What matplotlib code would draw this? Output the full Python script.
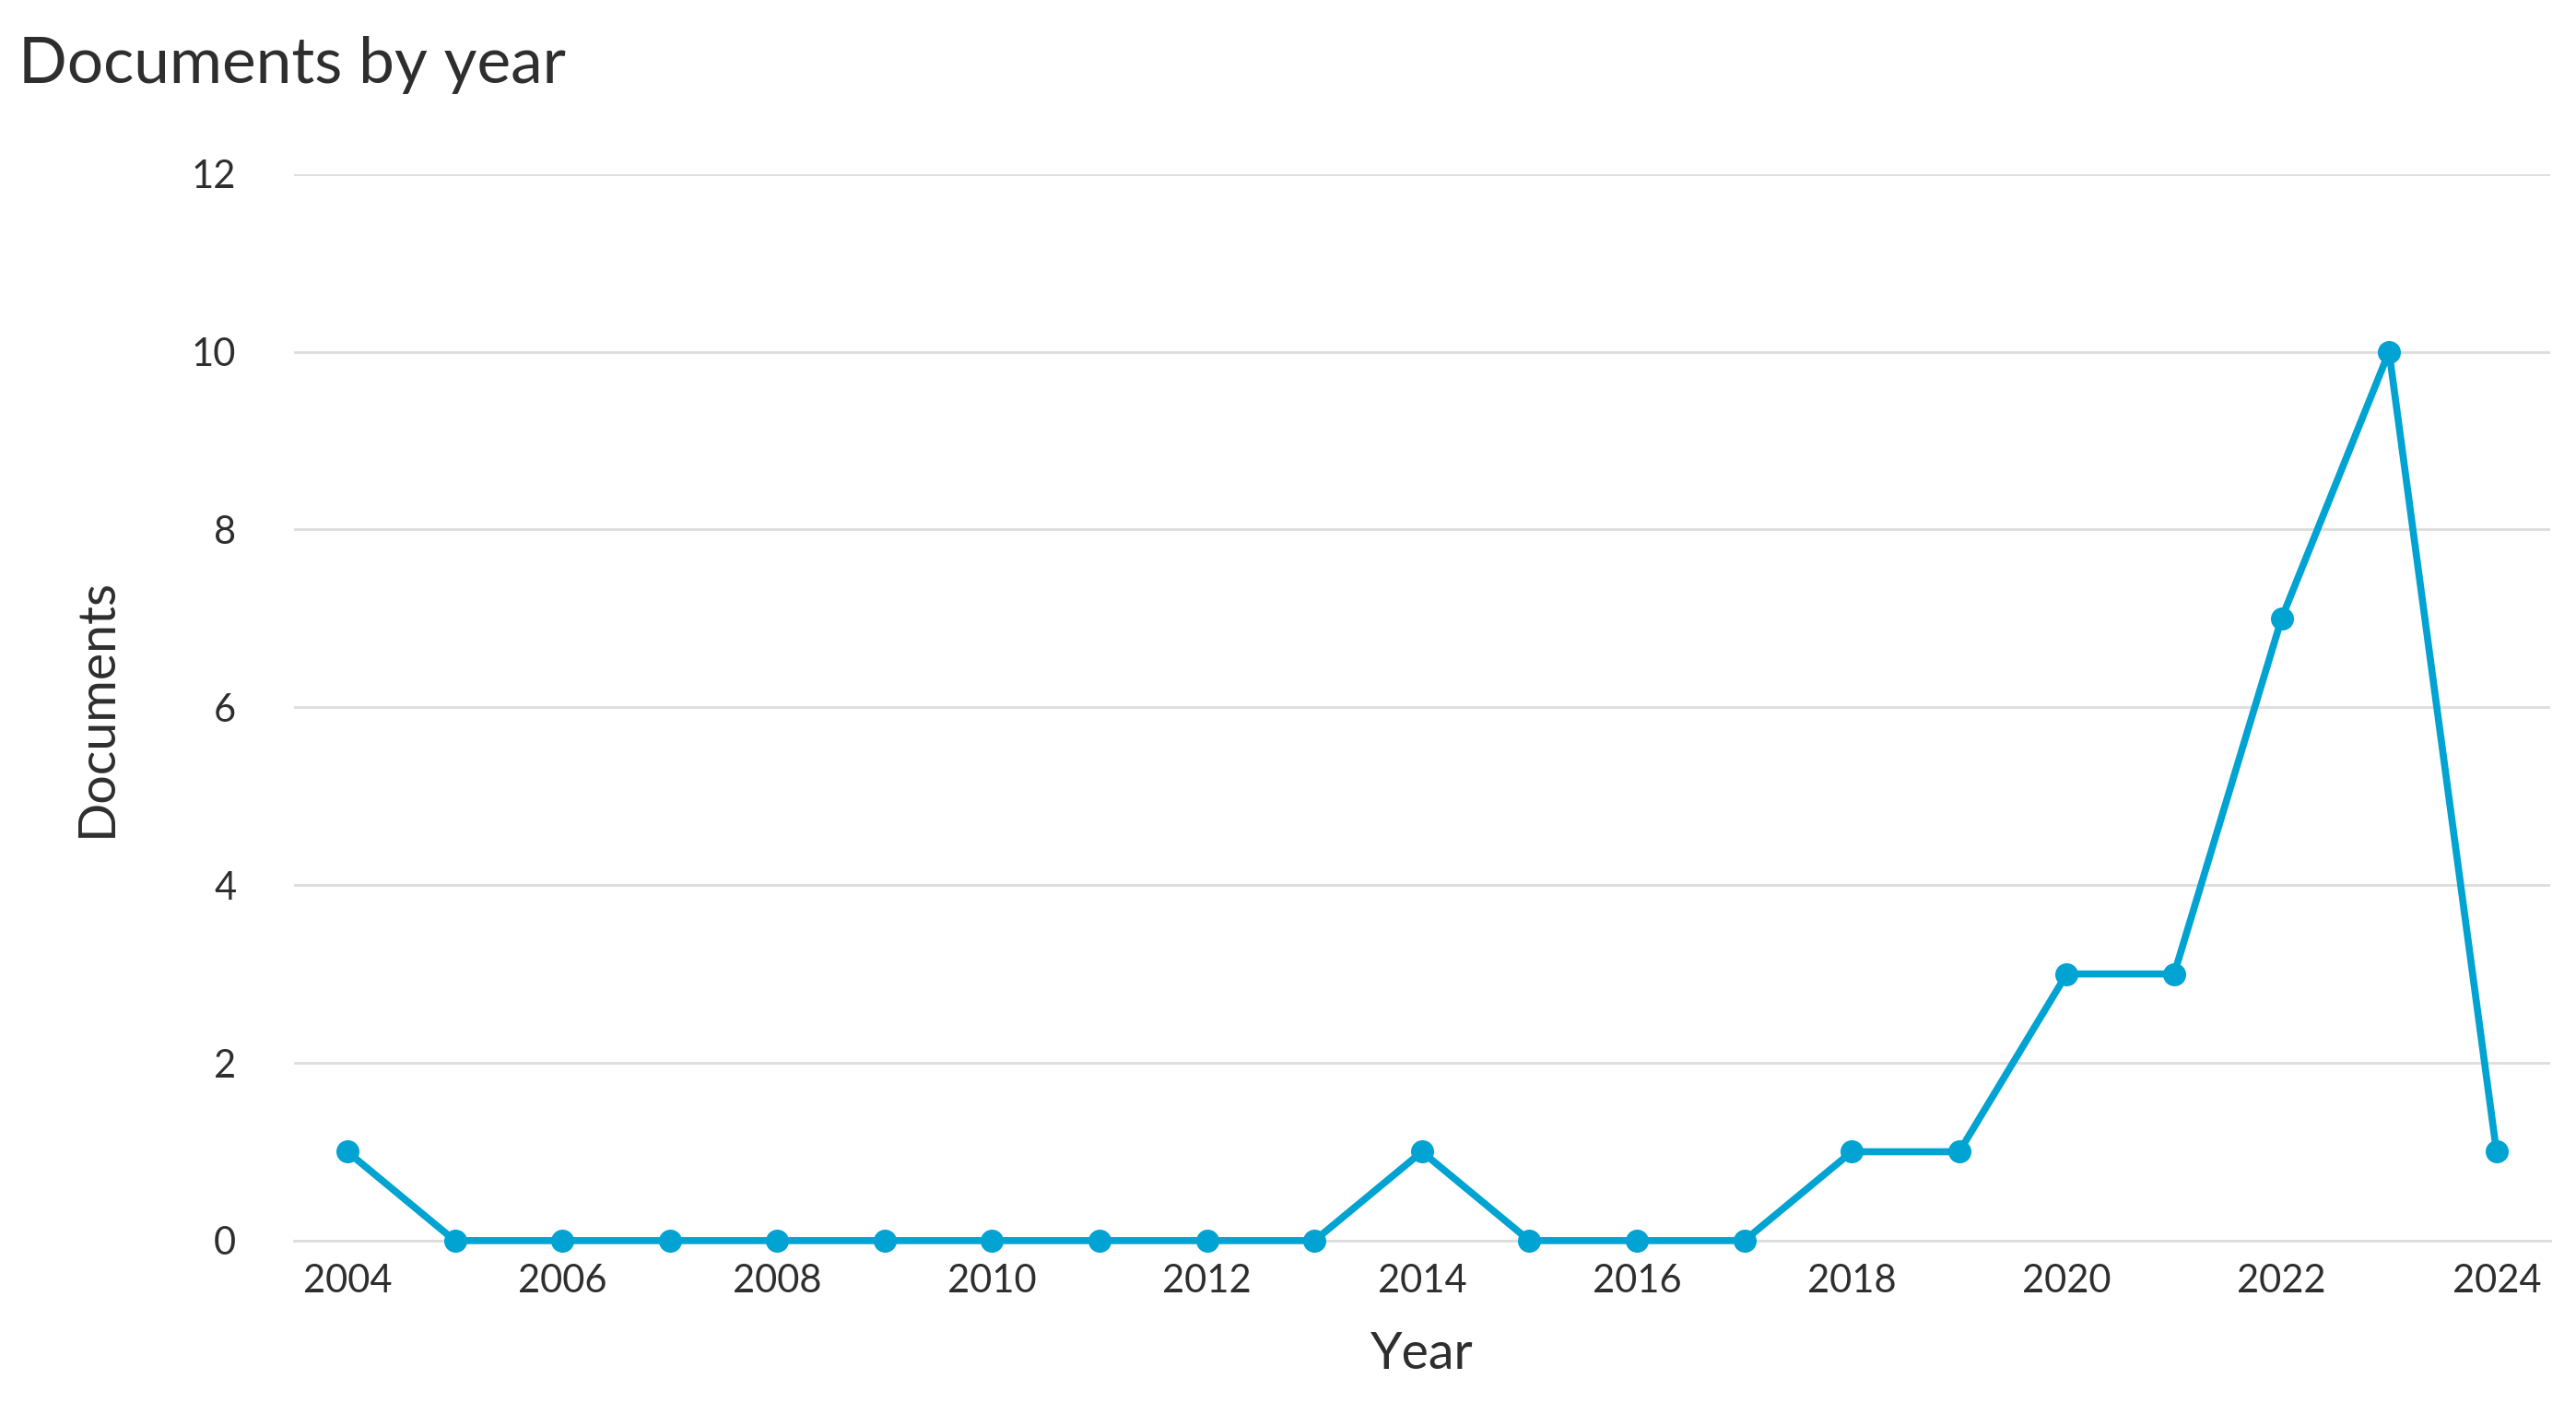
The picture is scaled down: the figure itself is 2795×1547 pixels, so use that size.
import matplotlib.pyplot as plt

years = list(range(2004, 2025))
documents = [1, 0, 0, 0, 0, 0, 0, 0, 0, 0, 1, 0, 0, 0, 1, 1, 3, 3, 7, 10, 1]
year_ticks = list(range(2004, 2025, 2))
doc_ticks = [0, 2, 4, 6, 8, 10, 12]

plt.rcParams['font.family'] = ['Lato', 'DejaVu Sans']

fig = plt.figure(figsize=(27.95, 15.47), dpi=100)
ax = fig.add_axes([0.114, 0.13, 0.876, 0.748])

color = '#00A3D1'
ax.plot(years, documents, color=color, linewidth=5.5, marker='o', markersize=17,
        solid_joinstyle='round', zorder=3, clip_on=False)

ax.set_xlim(2003.5, 2024.5)
ax.set_ylim(0, 12)
ax.set_xticks(year_ticks)
ax.set_yticks(doc_ticks)
ax.tick_params(axis='both', length=0, labelsize=30, colors='#2e2e2e')
ax.tick_params(axis='x', pad=18)
ax.tick_params(axis='y', pad=45)
ax.grid(axis='y', color='#dddddd', linewidth=2)
ax.set_axisbelow(True)
for s in ['top', 'right', 'left']:
    ax.spines[s].set_visible(False)
ax.spines['bottom'].set_color('#dddddd')
ax.spines['bottom'].set_linewidth(2)

ax.set_xlabel('Year', fontsize=40, color='#2e2e2e', labelpad=25)
ax.set_ylabel('Documents', fontsize=40, color='#2e2e2e', labelpad=55)
fig.text(0.007, 0.975, 'Documents by year', fontsize=50, color='#2e2e2e', va='top')

fig.savefig('out.png', dpi=100, facecolor='white')
